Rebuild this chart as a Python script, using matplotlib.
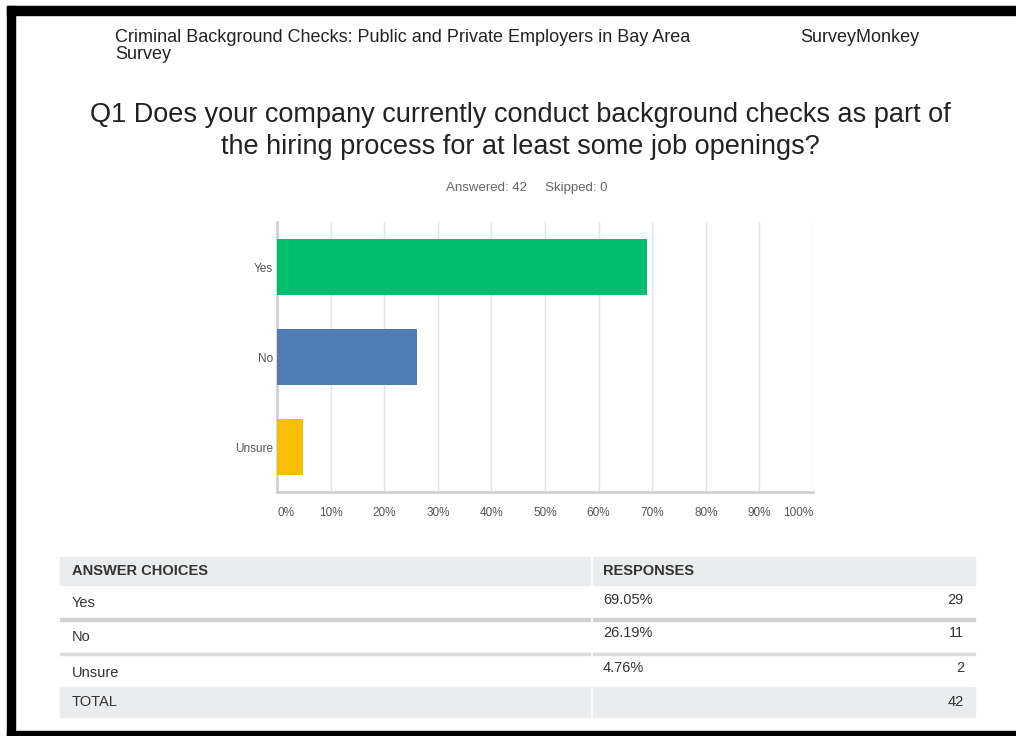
import matplotlib.pyplot as plt
from matplotlib.patches import Rectangle

W, H = 1016, 736

# survey answers
choices = ["Yes", "No", "Unsure"]
percents = [69.05, 26.19, 4.76]
counts = [29, 11, 2]
total = 42
skipped = 0
bar_colors = ["#00bf6f", "#507cb6", "#f9be00"]
x_ticks = [0, 10, 20, 30, 40, 50, 60, 70, 80, 90, 100]

header_left = "Criminal Background Checks: Public and Private Employers in Bay Area\nSurvey"
header_right = "SurveyMonkey"
question = ("Q1 Does your company currently conduct background checks as part of\n"
            "the hiring process for at least some job openings?")

plain = ["Liberation Sans", "DejaVu Sans"]
txt = "#333333"


def fx(x):
    return x / W


def fy(y):
    return 1 - y / H


fig = plt.figure(figsize=(W / 100, H / 100), dpi=100)
fig.patch.set_facecolor("white")

# black frame on top, left and bottom
for (x0, y0, w, h) in [(7, 6, W - 7, 9), (7, 6, 8, H - 6), (7, 731, W - 7, 5)]:
    fig.patches.append(Rectangle((fx(x0), fy(y0 + h)), w / W, h / H,
                                 transform=fig.transFigure, color="black", zorder=5))

fig.text(fx(115), fy(29), header_left, family=plain, fontsize=13, color="#222222",
         va="top", ha="left", linespacing=1.0)
fig.text(fx(800), fy(29), header_right, family=plain, fontsize=13, color="#222222",
         va="top", ha="left")
fig.text(fx(520), fy(102), question, family=plain, fontsize=19.5, color="#222222",
         va="top", ha="center", linespacing=1.3)
fig.text(fx(527), fy(188), f"Answered: {total}     Skipped: {skipped}", family=plain,
         fontsize=9.5, color="#666666", va="center", ha="center")

# bar chart
ax = fig.add_axes([fx(277), fy(492), (813 - 277) / W, (492 - 222) / H])
ypos = list(range(len(choices)))
ax.barh(ypos, percents, height=0.63, color=bar_colors, zorder=3)
ax.set_xlim(0, 100)
ax.set_ylim(2.5, -0.5)
ax.set_xticks(x_ticks)
ax.set_xticklabels([])
ax.tick_params(axis="both", length=0)
ax.set_yticks(ypos)
ax.set_yticklabels(choices, family=plain, fontsize=8.5, color="#555555")
ax.tick_params(axis="y", pad=3)
ax.grid(axis="x", color="#e3e3e3", linewidth=1, zorder=0)
for s in ["top", "right"]:
    ax.spines[s].set_visible(False)
for s in ["left", "bottom"]:
    ax.spines[s].set_color("#cccccc")
    ax.spines[s].set_linewidth(1.8)

for t in x_ticks:
    ha = "left" if t == 0 else ("right" if t == 100 else "center")
    ax.text(t, -0.078, f"{t}%", transform=ax.get_xaxis_transform(), ha=ha, va="center",
            family=plain, fontsize=8.5, color="#555555")

# response table
left, split, right = 60, 591, 975
band = "#ebeced"
rows = [(557, 585), (585, 619), (620, 654), (655, 687), (687, 717)]


def cell(x0, x1, y0, y1, color):
    fig.patches.append(Rectangle((fx(x0), fy(y1)), (x1 - x0) / W, (y1 - y0) / H,
                                 transform=fig.transFigure, color=color, zorder=1))


for (y0, y1) in [rows[0], rows[4]]:
    cell(left, split - 1, y0, y1, band)
    cell(split + 2, right, y0, y1, band)

cell(left, split - 1, 618, 621, "#d2d2d2")
cell(split + 2, right, 618, 621, "#d2d2d2")
cell(left, split - 1, 653, 655, "#dcdcdc")
cell(split + 2, right, 653, 655, "#dcdcdc")

fig.text(fx(72), fy(571), "ANSWER CHOICES", family=plain, fontsize=10.5, weight="bold",
         color=txt, va="center")
fig.text(fx(603), fy(571), "RESPONSES", family=plain, fontsize=10.5, weight="bold",
         color=txt, va="center")

label_y = [603, 637, 673]
value_y = [600, 633, 668]
for name, pct, n, ly, vy in zip(choices, percents, counts, label_y, value_y):
    fig.text(fx(72), fy(ly), name, family=plain, fontsize=10.5, color=txt, va="center")
    fig.text(fx(603), fy(vy), f"{pct:.2f}%", family=plain, fontsize=10.5, color=txt,
             va="center")
    fig.text(fx(964), fy(vy), str(n), family=plain, fontsize=10.5, color=txt,
             va="center", ha="right")

fig.text(fx(72), fy(702), "TOTAL", family=plain, fontsize=10.5, color=txt, va="center")
fig.text(fx(964), fy(702), str(total), family=plain, fontsize=10.5, color=txt,
         va="center", ha="right")

fig.savefig("out.png", dpi=100)
